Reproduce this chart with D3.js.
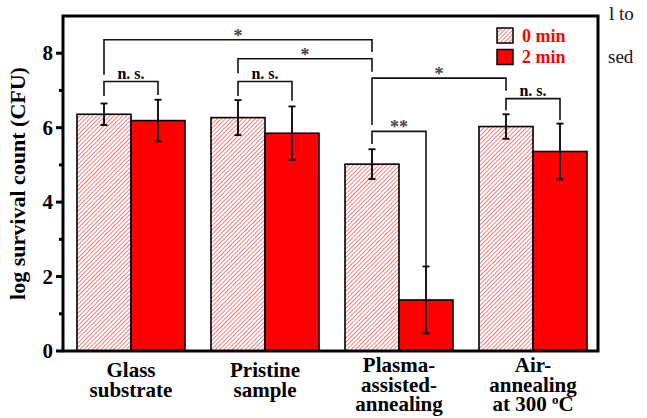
<!DOCTYPE html>
<html>
<head>
<meta charset="utf-8">
<script src="https://cdn.jsdelivr.net/npm/d3@7"></script>
<style>
  body { margin: 0; background: #fff; }
  svg { display: block; font-family: "Liberation Serif", "Times New Roman", serif; }
</style>
</head>
<body>
<div id="chart"></div>
<script>
// Chart data
const categories = ["Glass substrate", "Pristine sample", "Plasma-assisted-annealing", "Air-annealing at 300 °C"];
const labelLines = [["Glass", "substrate"], ["Pristine", "sample"], ["Plasma-", "assisted-", "annealing"], ["Air-", "annealing", "at 300 °C"]];
const series = ["0 min", "2 min"];
const means0 = [6.36, 6.27, 5.02, 6.03];
const means2 = [6.19, 5.85, 1.37, 5.36];
const err0 = [0.29, 0.47, 0.40, 0.33];
const err2 = [0.56, 0.72, 0.90, 0.75];
const yTicks = [0, 2, 4, 6, 8];
const yMinorTicks = [1, 3, 5, 7];

// Significance brackets: [group, series] of each leg, level and leg ends in data units
const brackets = [
  { a: [0, 0], b: [2, 0], top: 8.36, endA: 7.42, endB: 8.03, label: "*" },
  { a: [1, 0], b: [2, 0], top: 7.85, endA: 7.46, endB: 7.5, label: "*" },
  { a: [2, 0], b: [3, 0], top: 7.33, endA: 6.07, endB: 6.99, label: "*" },
  { a: [2, 0], b: [2, 1], top: 5.9, endA: 5.56, endB: 2.27, label: "**" },
  { a: [0, 0], b: [0, 1], top: 7.24, endA: 6.85, endB: 6.88, label: "n. s." },
  { a: [1, 0], b: [1, 1], top: 7.24, endA: 6.85, endB: 6.72, label: "n. s." },
  { a: [3, 0], b: [3, 1], top: 6.78, endA: 6.46, endB: 6.2, label: "n. s." }
];

const width = 647;
const height = 418;
const plot = { left: 63, right: 598, top: 16, bottom: 351 };

const svg = d3.select("#chart").append("svg")
  .attr("width", width)
  .attr("height", height);

// Hatch pattern for the 0 min bars (pink "/" stripes on white)
const defs = svg.append("defs");
const hatch = defs.append("pattern")
  .attr("id", "hatch")
  .attr("patternUnits", "userSpaceOnUse")
  .attr("width", 3)
  .attr("height", 3)
  .attr("patternTransform", "rotate(45)");
hatch.append("rect")
  .attr("width", 3).attr("height", 3)
  .style("fill", "#ffffff");
hatch.append("rect")
  .attr("width", 1).attr("height", 3)
  .style("fill", "#f48080");

const fills = ["url(#hatch)", "#ff0000"];

// Scales
const y = d3.scaleLinear().domain([0, 9]).range([plot.bottom, plot.top]);
const x = d3.scaleBand().domain(categories).range([64, 600]).padding(0);
const groupPad = 13;
const xSub = d3.scaleBand().domain(series).range([0, x.bandwidth() - 2 * groupPad]);

const rows = [];
categories.forEach((c, i) => {
  rows.push({ cat: c, s: series[0], v: means0[i], e: err0[i], k: 0 });
  rows.push({ cat: c, s: series[1], v: means2[i], e: err2[i], k: 1 });
});

const barX = (cat, s) => x(cat) + groupPad + xSub(s);
const barMid = (g, k) => barX(categories[g], series[k]) + xSub.bandwidth() / 2;

// Bars
svg.append("g").selectAll("rect")
  .data(rows)
  .join("rect")
  .attr("x", d => barX(d.cat, d.s))
  .attr("y", d => y(d.v))
  .attr("width", xSub.bandwidth())
  .attr("height", d => y(0) - y(d.v))
  .attr("fill", d => fills[d.k])
  .attr("stroke", "#000")
  .attr("stroke-width", 1.6);

// Error bars
const eb = svg.append("g").attr("stroke", "#000").attr("stroke-width", 1.8);
rows.forEach(d => {
  const cx = barX(d.cat, d.s) + xSub.bandwidth() / 2;
  eb.append("line").attr("x1", cx).attr("x2", cx).attr("y1", y(d.v + d.e)).attr("y2", y(d.v - d.e));
  [d.v + d.e, d.v - d.e].forEach(v => {
    eb.append("line").attr("x1", cx - 3.5).attr("x2", cx + 3.5).attr("y1", y(v)).attr("y2", y(v));
  });
});

// Significance brackets
const br = svg.append("g");
brackets.forEach(b => {
  const xa = barMid(b.a[0], b.a[1]);
  const xb = barMid(b.b[0], b.b[1]);
  br.append("path")
    .attr("d", `M${xa},${y(b.endA)}V${y(b.top)}H${xb}V${y(b.endB)}`)
    .attr("fill", "none")
    .attr("stroke", "#111")
    .attr("stroke-width", 1.6);
  const isStar = b.label.indexOf("*") === 0;
  br.append("text")
    .attr("x", (xa + xb) / 2)
    .attr("y", y(b.top) + (isStar ? 2 : -3))
    .attr("text-anchor", "middle")
    .attr("font-size", isStar ? "18px" : "16px")
    .attr("font-weight", "bold")
    .attr("fill", isStar ? "#444" : "#000")
    .text(b.label);
});

// Y axis ticks and labels
const yAxis = svg.append("g");
yAxis.selectAll("line.major")
  .data(yTicks)
  .join("line")
  .attr("class", "major")
  .attr("x1", plot.left - 7).attr("x2", plot.left)
  .attr("y1", d => y(d)).attr("y2", d => y(d))
  .attr("stroke", "#000").attr("stroke-width", 3);
yAxis.selectAll("line.minor")
  .data(yMinorTicks)
  .join("line")
  .attr("class", "minor")
  .attr("x1", plot.left - 4).attr("x2", plot.left)
  .attr("y1", d => y(d)).attr("y2", d => y(d))
  .attr("stroke", "#000").attr("stroke-width", 3);
yAxis.selectAll("text")
  .data(yTicks)
  .join("text")
  .attr("x", plot.left - 10)
  .attr("y", d => y(d) + 7)
  .attr("text-anchor", "end")
  .attr("font-size", "21px")
  .attr("font-weight", "bold")
  .text(d => d);

// Y axis title
svg.append("text")
  .attr("transform", `translate(25,${(plot.top + plot.bottom) / 2}) rotate(-90)`)
  .attr("text-anchor", "middle")
  .attr("font-size", "22px")
  .attr("font-weight", "bold")
  .text("log survival count (CFU)");

// Frame
svg.append("rect")
  .attr("x", plot.left)
  .attr("y", plot.top)
  .attr("width", plot.right - plot.left)
  .attr("height", plot.bottom - plot.top)
  .attr("fill", "none")
  .attr("stroke", "#000")
  .attr("stroke-width", 3);

// Category labels
const xl = svg.append("g")
  .attr("font-size", "21px")
  .attr("font-weight", "bold")
  .attr("text-anchor", "middle");
categories.forEach((c, i) => {
  const lines = labelLines[i];
  const three = lines.length === 3;
  const cx = x(c) + x.bandwidth() / 2;
  lines.forEach((ln, j) => {
    const ly = (three ? 372 : 377) + j * (three ? 19.5 : 20);
    const t = xl.append("text").attr("x", cx).attr("y", ly);
    if (ln.indexOf("°C") >= 0) {
      t.append("tspan").text(ln.replace("°C", ""));
      t.append("tspan").attr("dy", -7).attr("font-size", "13px").text("o");
      t.append("tspan").attr("dy", 7).text("C");
    } else {
      t.text(ln);
    }
  });
});

// Legend
const legend = svg.append("g").attr("transform", "translate(497,28)");
series.forEach((s, i) => {
  const g = legend.append("g").attr("transform", `translate(0,${i * 21.5})`);
  g.append("rect")
    .attr("width", 16).attr("height", 15)
    .attr("fill", fills[i])
    .attr("stroke", "#000").attr("stroke-width", 1.5);
  g.append("text")
    .attr("x", 25).attr("y", 13.5)
    .attr("font-size", "18px")
    .attr("font-weight", "bold")
    .attr("fill", "#ff0000")
    .text(s);
});

// Cropped page text on the right
svg.append("text").attr("x", 609).attr("y", 20).attr("font-size", "19px").attr("fill", "#111").text("l to");
svg.append("text").attr("x", 608).attr("y", 63).attr("font-size", "19px").attr("fill", "#111").text("sed");
</script>
</body>
</html>
